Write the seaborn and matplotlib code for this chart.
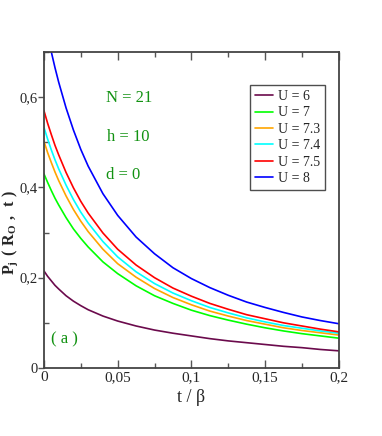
import numpy as np
import pandas as pd
import seaborn as sns
import matplotlib.pyplot as plt
from matplotlib.ticker import MultipleLocator

# time grid (t / beta) and curve values
t_vals = [0, 0.0025, 0.005, 0.0075, 0.01, 0.015, 0.02, 0.025, 0.03, 0.04, 0.05, 0.0625,
          0.075, 0.0875, 0.1, 0.1125, 0.125, 0.1375, 0.15, 0.1625, 0.175, 0.1875, 0.2]
p_u6 = [0.215, 0.203, 0.193, 0.183, 0.175, 0.160, 0.148, 0.138, 0.129, 0.115, 0.104, 0.093,
        0.084, 0.077, 0.071, 0.065, 0.060, 0.056, 0.052, 0.048, 0.045, 0.041, 0.038]
p_u7 = [0.430, 0.411, 0.393, 0.376, 0.361, 0.333, 0.308, 0.287, 0.268, 0.235, 0.209, 0.182,
        0.160, 0.143, 0.128, 0.116, 0.106, 0.097, 0.089, 0.082, 0.076, 0.071, 0.066]
p_u73 = [0.502, 0.477, 0.455, 0.434, 0.415, 0.381, 0.351, 0.325, 0.302, 0.263, 0.231, 0.201,
         0.176, 0.156, 0.140, 0.126, 0.115, 0.105, 0.097, 0.089, 0.083, 0.078, 0.073]
p_u74 = [0.533, 0.507, 0.483, 0.461, 0.441, 0.405, 0.373, 0.345, 0.321, 0.280, 0.246, 0.213,
         0.187, 0.166, 0.149, 0.134, 0.122, 0.111, 0.102, 0.094, 0.088, 0.082, 0.077]
p_u75 = [0.570, 0.542, 0.517, 0.493, 0.472, 0.433, 0.399, 0.369, 0.343, 0.299, 0.263, 0.228,
         0.200, 0.177, 0.159, 0.143, 0.130, 0.118, 0.109, 0.100, 0.093, 0.086, 0.080]
p_u8 = [0.780, 0.738, 0.700, 0.665, 0.633, 0.576, 0.527, 0.484, 0.447, 0.386, 0.338, 0.290,
        0.253, 0.222, 0.198, 0.178, 0.161, 0.146, 0.134, 0.123, 0.113, 0.105, 0.098]

labels = ['U = 6', 'U = 7', 'U = 7.3', 'U = 7.4', 'U = 7.5', 'U = 8']
colors = ['#6b0a4c', '#00ff00', '#ffa500', '#00ffff', '#ff0000', '#0000ff']
series = [p_u6, p_u7, p_u73, p_u74, p_u75, p_u8]

xticks = [0, 0.05, 0.1, 0.15, 0.2]
xtick_labels = ['0', '0,05', '0,1', '0,15', '0,2']
yticks = [0, 0.2, 0.4, 0.6]
ytick_labels = ['0', '0,2', '0,4', '0,6']

rows = []
for lab, ys in zip(labels, series):
    for t, p in zip(t_vals, ys):
        rows.append((t, p, lab))
df = pd.DataFrame(rows, columns=['t', 'P', 'U'])

sns.set_style('ticks')
plt.rcParams['font.family'] = ['Liberation Serif', 'DejaVu Serif']
plt.rcParams['mathtext.fontset'] = 'custom'
plt.rcParams['mathtext.bf'] = 'Liberation Serif:bold'
plt.rcParams['mathtext.rm'] = 'Liberation Serif'

fig = plt.figure(figsize=(3.82, 4.36), dpi=100)
ax = fig.add_axes([0.115, 0.156, 0.772, 0.725])

sns.lineplot(data=df, x='t', y='P', hue='U', palette=dict(zip(labels, colors)),
             linewidth=1.2, ax=ax, legend=False)

ax.set_xlim(0, 0.2)
ax.set_ylim(0, 0.7)
ax.set_xticks(xticks)
ax.set_xticklabels(xtick_labels)
ax.set_yticks(yticks)
ax.set_yticklabels(ytick_labels)
ax.xaxis.set_minor_locator(MultipleLocator(0.025))
ax.yaxis.set_minor_locator(MultipleLocator(0.1))
ax.tick_params(axis='x', which='major', direction='in', length=6, width=1, top=True, labelsize=11, color='#555555', pad=2)
ax.tick_params(axis='x', which='minor', direction='in', length=3.5, width=1, top=True, color='#555555')
ax.tick_params(axis='y', which='major', direction='out', length=4, width=1, labelsize=10.5, color='#555555', pad=0.5)
ax.tick_params(axis='y', which='minor', direction='in', length=3.5, width=1, color='#555555')
for sp in ax.spines.values():
    sp.set_color('#444444')
    sp.set_linewidth(1.3)

ax.set_xlabel('t / β', fontsize=13, labelpad=4)
ax.set_ylabel(r'$\mathbf{P_j\ (\ R_O\ ,\ t\ )}$', fontsize=11.5)
ax.yaxis.set_label_coords(-0.08, 0.43)

green = '#129212'
ax.text(0.29, 0.855, 'N = 21', transform=ax.transAxes, ha='center', va='center', fontsize=12, color=green)
ax.text(0.285, 0.73, 'h = 10', transform=ax.transAxes, ha='center', va='center', fontsize=12, color=green)
ax.text(0.27, 0.61, 'd = 0', transform=ax.transAxes, ha='center', va='center', fontsize=12, color=green)
ax.text(0.07, 0.09, '( a )', transform=ax.transAxes, ha='center', va='center', fontsize=12, color=green)

handles = [plt.Line2D([], [], color=c, linewidth=1.2) for c in colors]
leg = ax.legend(handles, labels, loc='upper left', bbox_to_anchor=(0.698, 0.895),
                fontsize=10, frameon=True, fancybox=False, handlelength=1.3,
                handletextpad=0.4, labelspacing=0.25, borderpad=0.35, borderaxespad=0)
leg.get_frame().set_edgecolor('#222222')
leg.get_frame().set_linewidth(1.0)

fig.savefig('out.png', dpi=100)
